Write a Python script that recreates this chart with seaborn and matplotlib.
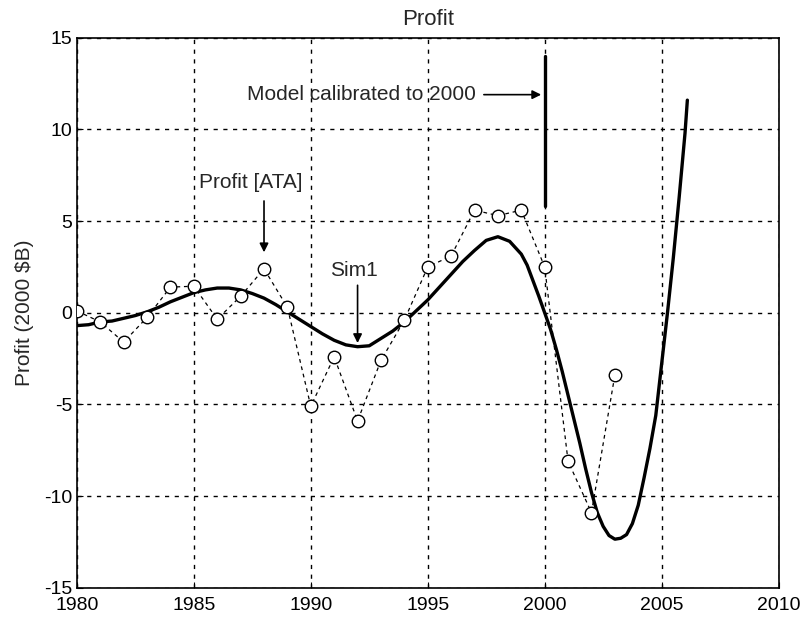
import matplotlib
matplotlib.use("Agg")
from matplotlib import pyplot as plt
import seaborn as sns
import pandas as pd

# Profit [ATA] - yearly observed values
years = list(range(1980, 2004))
profit_ata = [0.1, -0.5, -1.6, -0.25, 1.4, 1.45, -0.35, 0.9, 2.4, 0.3, -5.1, -2.4,
              -5.9, -2.6, -0.4, 2.5, 3.1, 5.6, 5.3, 5.6, 2.5, -8.1, -10.9, -3.4]

# Sim1 - model curve
sim_years = [1980.0, 1980.5, 1981.0, 1981.5, 1982.0, 1982.5, 1983.0, 1983.5, 1984.0, 1984.5,
             1985.0, 1985.5, 1986.0, 1986.5, 1987.0, 1987.5, 1988.0, 1988.5, 1989.0, 1989.5,
             1990.0, 1990.5, 1991.0, 1991.5, 1992.0, 1992.5, 1993.0, 1993.5, 1994.0, 1994.5,
             1995.0, 1995.5, 1996.0, 1996.5, 1997.0, 1997.5, 1998.0, 1998.5, 1999.0, 1999.25,
             1999.5, 1999.75, 2000.0, 2000.25, 2000.5, 2000.75, 2001.0, 2001.25, 2001.5, 2001.75,
             2002.0, 2002.25, 2002.5, 2002.75, 2003.0, 2003.25, 2003.5, 2003.75, 2004.0, 2004.25,
             2004.5, 2004.75, 2005.0, 2005.25, 2005.5, 2005.75, 2006.0, 2006.1]
sim1 = [-0.7, -0.65, -0.5, -0.45, -0.3, -0.15, 0.05, 0.3, 0.6, 0.85,
        1.1, 1.25, 1.35, 1.35, 1.25, 1.05, 0.8, 0.45, 0.05, -0.35,
        -0.75, -1.15, -1.5, -1.75, -1.85, -1.8, -1.4, -1.0, -0.5, 0.1,
        0.7, 1.4, 2.1, 2.8, 3.4, 3.95, 4.15, 3.9, 3.2, 2.6,
        1.75, 0.9, 0.0, -0.9, -2.0, -3.2, -4.5, -5.8, -7.1, -8.5,
        -9.8, -10.9, -11.65, -12.15, -12.35, -12.3, -12.1, -11.5, -10.5, -9.0,
        -7.4, -5.6, -2.8, 0.0, 3.0, 6.3, 9.8, 11.6]

xticks = [1980, 1985, 1990, 1995, 2000, 2005, 2010]
yticks = [-15, -10, -5, 0, 5, 10, 15]

sns.set_style("ticks")
plt.rcParams['font.family'] = ['Liberation Sans', 'DejaVu Sans']
plt.rcParams['axes.unicode_minus'] = False

fig = plt.figure(figsize=(8.01, 6.2), dpi=100)
ax = fig.add_axes([0.096, 0.052, 0.876, 0.887])

df_ata = pd.DataFrame({'year': years, 'profit': profit_ata})
df_sim = pd.DataFrame({'year': sim_years, 'profit': sim1})

sns.lineplot(data=df_sim, x='year', y='profit', color='black', linewidth=2.4, ax=ax, zorder=3)
sns.lineplot(data=df_ata, x='year', y='profit', color='black', linewidth=0.9,
             linestyle=(0, (3, 3)), marker='o', markersize=9, markerfacecolor='white',
             markeredgecolor='black', markeredgewidth=1.0, ax=ax, zorder=4)

ax.set_xlim(1980, 2010)
ax.set_ylim(-15, 15)
ax.set_xticks(xticks)
ax.set_yticks(yticks)
ax.tick_params(direction='in', length=4, labelsize=14, color='black', labelcolor='black')
ax.tick_params(axis='x', pad=6.5)
ax.grid(True, color='black', linestyle=(0, (3, 4)), linewidth=1.0)
for s in ax.spines.values():
    s.set_visible(True)
    s.set_color('black')
    s.set_linewidth(1.2)

ax.set_xlabel('')
ax.set_ylabel('Profit (2000 $B)', fontsize=15, labelpad=7)
ax.set_title('Profit', fontsize=16, pad=9)

arrow = dict(arrowstyle='-|>', color='black', lw=1.2, mutation_scale=13, shrinkA=0, shrinkB=0)

# calibration marker
ax.plot([2000, 2000], [5.8, 14.0], color='black', linewidth=2.4, zorder=3)
ax.text(1997.05, 11.9, 'Model calibrated to 2000', ha='right', va='center', fontsize=15)
ax.annotate('', xy=(1999.85, 11.9), xytext=(1997.4, 11.9), arrowprops=arrow)

ax.text(1987.45, 7.1, 'Profit [ATA]', ha='center', va='center', fontsize=15)
ax.annotate('', xy=(1988, 3.3), xytext=(1988, 6.1), arrowprops=arrow)

ax.text(1991.85, 2.3, 'Sim1', ha='center', va='center', fontsize=15)
ax.annotate('', xy=(1992, -1.65), xytext=(1992, 1.5), arrowprops=arrow)

fig.savefig('out.png', dpi=100)
plt.close(fig)
